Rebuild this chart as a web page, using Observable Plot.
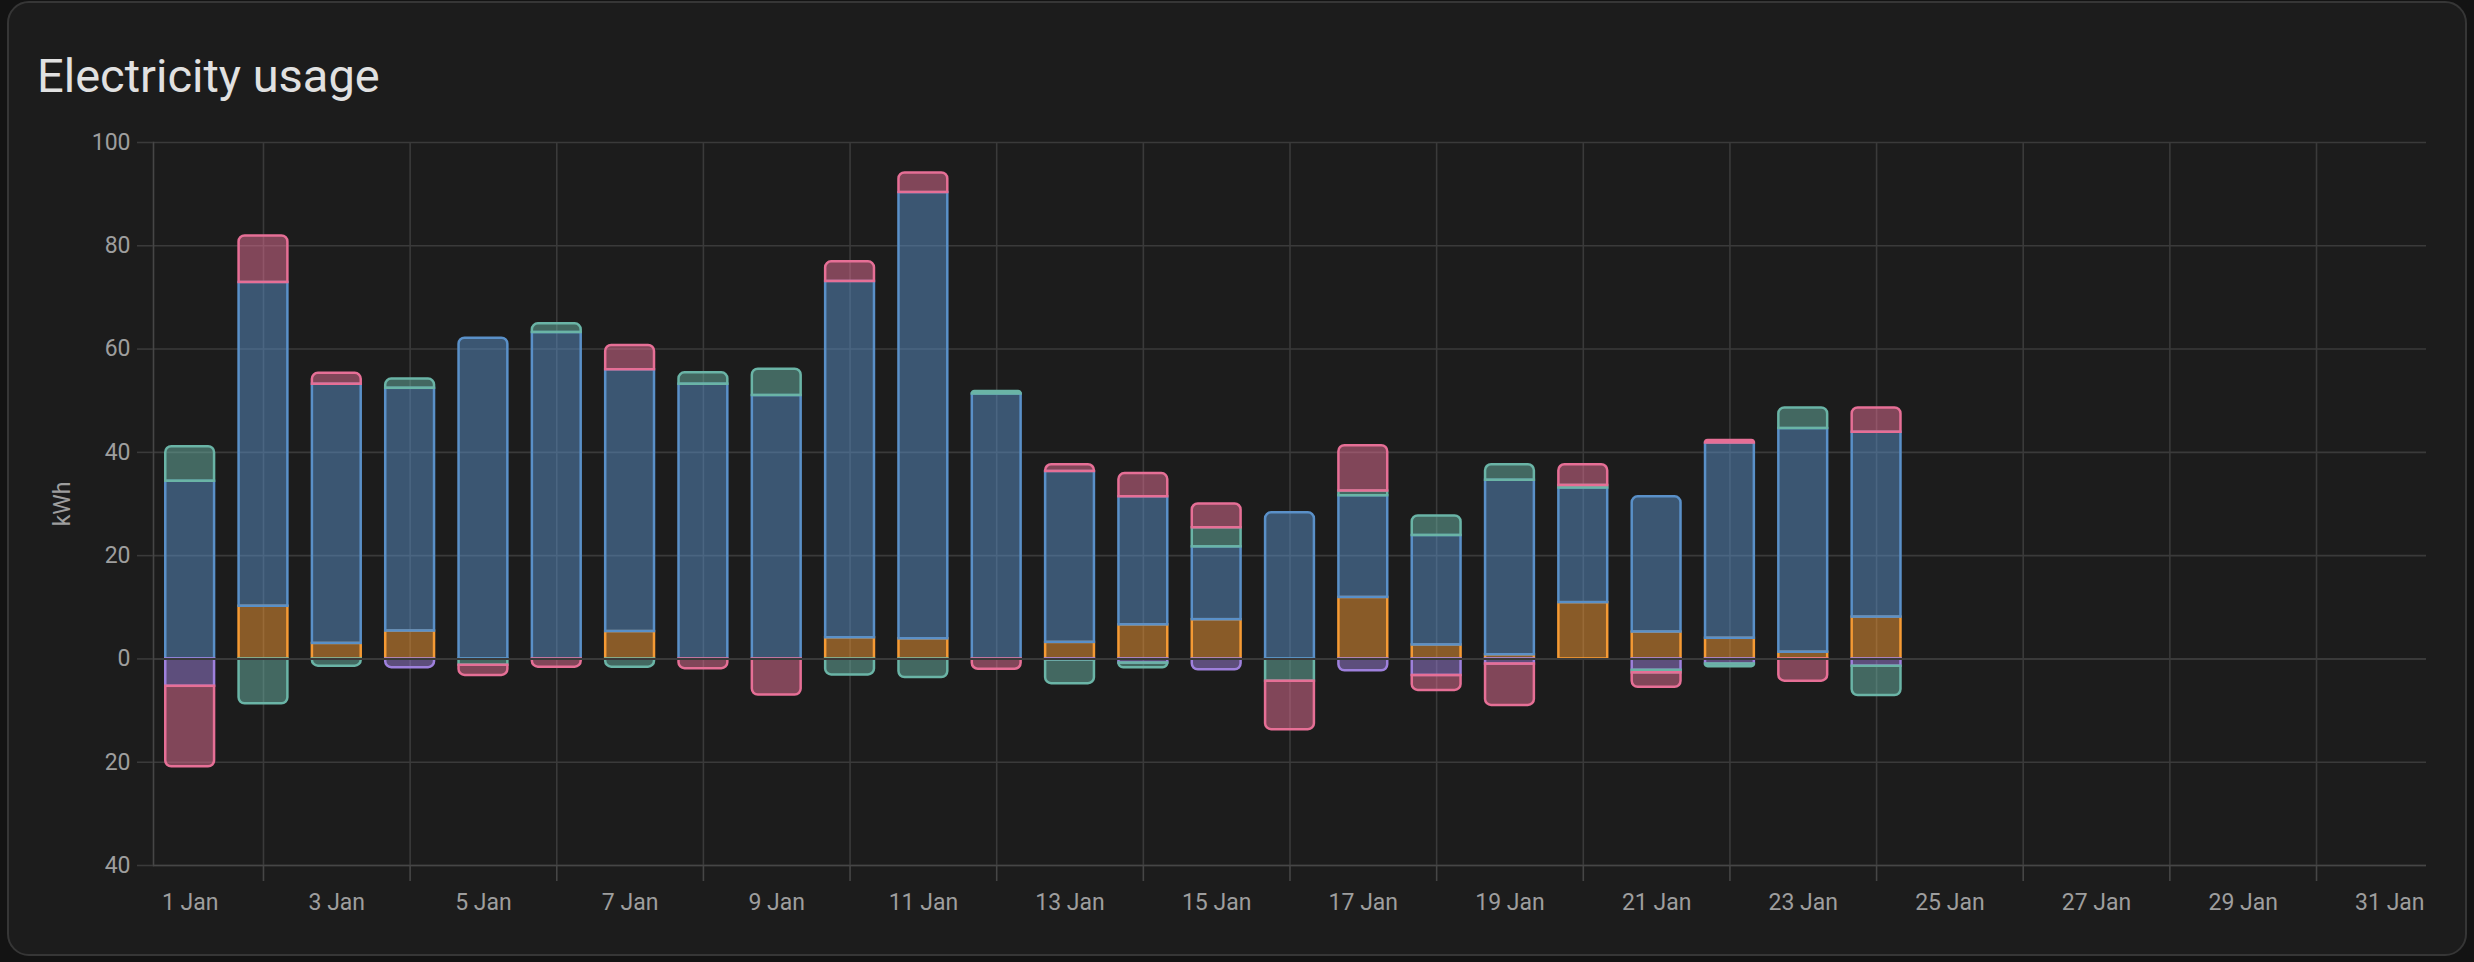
<!DOCTYPE html>
<html><head><meta charset="utf-8">
<script src="https://cdn.jsdelivr.net/npm/d3@7"></script>
<script src="https://cdn.jsdelivr.net/npm/@observablehq/plot@0.6"></script>
<style>
html,body{margin:0;padding:0;background:#131313;}
#wrap{position:relative;width:2474px;height:962px;overflow:hidden;background:#131313;}
#card{position:absolute;left:7px;top:1px;width:2456px;height:951px;background:#1c1c1c;border:2px solid #363636;border-radius:22px;}
#title{position:absolute;left:37px;top:52px;font:400 47px/47px Roboto,sans-serif;color:#e1e1e1;white-space:nowrap;}
#chart{position:absolute;left:0;top:100px;}
</style></head><body>
<div id="wrap"><div id="card"></div><div id="title">Electricity usage</div><div id="chart"></div></div>
<script>
// Days of January shown on the axis
const days = d3.range(1, 32);
const labelDays = days.filter(d => d % 2 === 1);
const gridDays = days.filter(d => d % 2 === 0);
const dataDays = d3.range(1, 25);
const yTicks = [-40, -20, 0, 20, 40, 60, 80, 100];

// Series values (kWh) for 1..24 Jan
const solar    = [0, 10.2, 3.0, 5.4, 0, 0, 5.3, 0, 0, 4.1, 3.9, 0, 3.2, 6.6, 7.6, 0, 11.9, 2.7, 0.8, 10.9, 5.2, 4.0, 1.3, 8.1];
const grid     = [34.4, 62.7, 50.2, 47.0, 62.1, 63.2, 50.7, 53.2, 51.0, 69.0, 86.4, 51.3, 33.1, 24.8, 14.1, 28.3, 19.7, 21.2, 33.8, 22.2, 26.2, 37.8, 43.3, 35.8];
const returned = [-5.3, 0, 0, -1.7, 0, 0, 0, 0, 0, 0, 0, 0, -0.2, -0.8, -2.1, 0, -2.3, -3.2, -1.0, 0, -2.2, -1.0, 0, -1.4];
const batteryA = [6.7, -8.7, -1.4, 1.8, -1.2, 1.7, -1.6, 2.2, 5.1, -3.1, -3.6, 0.5, -4.6, -0.9, 3.7, -4.3, 0.9, 3.8, 3.0, 0.5, -0.5, -0.5, 4.0, -5.7];
const batteryB = [-15.6, 9.0, 2.1, 0, -2.0, -1.6, 4.7, -1.9, -7.0, 3.8, 3.8, -2.0, 1.3, 4.5, 4.6, -9.4, 8.8, -2.9, -8.0, 4.0, -2.8, 0.5, -4.3, 4.7];

const seriesNames = ["Solar", "Grid", "Returned", "Battery A", "Battery B"];
const seriesColors = ["#f59a34", "#5a90c8", "#9e80dc", "#6ab4a6", "#e66f96"];
const seriesValues = [solar, grid, returned, batteryA, batteryB];

const rows = [];
dataDays.forEach((day, i) => {
  let lastPos = -1, lastNeg = -1;
  seriesValues.forEach((arr, s) => { if (arr[i] > 0) lastPos = s; if (arr[i] < 0) lastNeg = s; });
  seriesValues.forEach((arr, s) => {
    const v = arr[i];
    if (v !== 0) rows.push({day, series: seriesNames[s], value: v,
      outer: s === (v > 0 ? lastPos : lastNeg) ? (v > 0 ? "pos" : "neg") : null});
  });
});

const gridColor = "#3a3a3a";
const axisColor = "#464646";
const textColor = "#9e9e9e";
const inset = 12.25;
const radius = 6;

const barOpts = (show) => ({
  x: "day", y: "value", z: "series", fill: "series", stroke: "series",
  fillOpacity: d => show(d) ? 0.5 : 0, strokeOpacity: d => show(d) ? 1 : 0,
  strokeWidth: 2.5, insetLeft: inset, insetRight: inset
});

const chart = Plot.plot({
  width: 2474,
  height: 862,
  marginLeft: 153,
  marginRight: 48,
  marginTop: 42,
  marginBottom: 97,
  style: {background: "transparent", color: textColor, fontFamily: "Roboto, sans-serif", fontSize: "23px", overflow: "visible"},
  x: {type: "band", domain: days, padding: 0, round: false, label: null},
  y: {domain: [-40, 100], label: null},
  color: {domain: seriesNames, range: seriesColors},
  marks: [
    Plot.gridX(gridDays, {stroke: gridColor, strokeOpacity: 1, strokeWidth: 1.6}),
    Plot.gridY(yTicks, {stroke: gridColor, strokeOpacity: 1, strokeWidth: 1.6}),
    Plot.barY(rows, barOpts(d => !d.outer)),
    Plot.barY(rows, {...barOpts(d => d.outer === "pos"), ry1: radius}),
    Plot.barY(rows, {...barOpts(d => d.outer === "neg"), ry2: radius}),
    Plot.ruleY([0], {stroke: gridColor, strokeWidth: 2}),
    Plot.frame({anchor: "left", stroke: axisColor, strokeWidth: 1.6}),
    Plot.ruleY([-40], {stroke: axisColor, strokeWidth: 1.6}),
    Plot.axisY(yTicks, {tickSize: 16, tickPadding: 7, tickFormat: d => Math.abs(d), stroke: gridColor, fill: textColor, fontSize: 23, strokeWidth: 1.6}),
    Plot.axisX(gridDays, {tickSize: 16, tickFormat: () => "", stroke: axisColor, strokeWidth: 1.6}),
    Plot.axisX(labelDays, {tickSize: 0, tickPadding: 28, tickFormat: d => d + " Jan", fill: textColor, fontSize: 23}),
    Plot.text(["kWh"], {frameAnchor: "left", dx: -91, rotate: -90, textAnchor: "middle", fill: textColor, fontSize: 23})
  ]
});
document.getElementById("chart").appendChild(chart);
</script>
</body></html>
